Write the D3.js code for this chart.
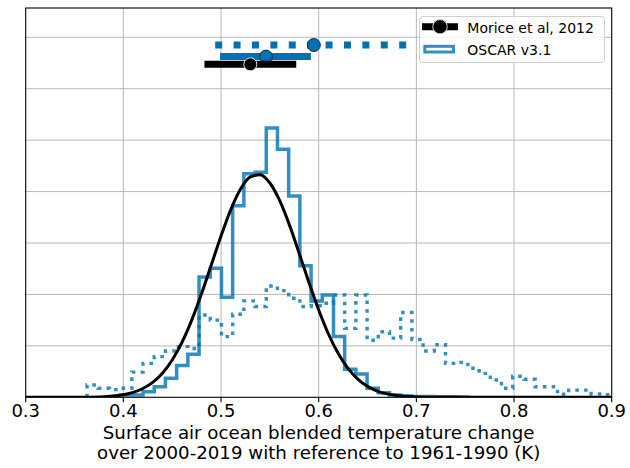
<!DOCTYPE html>
<html><head><meta charset="utf-8">
<script src="https://cdn.jsdelivr.net/npm/d3@7"></script>
<style>body{margin:0;background:#fff;} text{font-family:"DejaVu Sans",sans-serif;fill:#000;}</style>
</head><body><svg id="c" width="630" height="468"></svg>
<script>
// ---- data ----
const xTicks = [0.3, 0.4, 0.5, 0.6, 0.7, 0.8, 0.9];
const xTickLabels = ["0.3", "0.4", "0.5", "0.6", "0.7", "0.8", "0.9"];
const yGrid = [2, 4, 6, 8, 10, 12, 14];
const binWidth = 0.01147;
// OSCAR unconstrained (dotted histogram, density)
const oscarAllStart = 0.3628;
const oscarAll = [0.48, 0.35, 0.30, 0.35, 0.98, 1.32, 1.58, 1.80, 1.97, 1.90,
  3.20, 3.00, 2.36, 3.23, 3.75, 3.53, 4.33, 4.15, 3.85, 3.53,
  3.56, 3.66, 3.98, 2.68, 3.98, 2.22, 2.55, 2.30, 3.30, 2.25,
  1.80, 2.05, 1.32, 1.36, 1.13, 0.93, 0.67, 0.35, 0.82, 0.70,
  0.41, 0.41, 0.12, 0.28, 0.28, 0.13, 0.10, 0.08];
// OSCAR v3.1 constrained (solid histogram, density)
const oscarConStart = 0.3972;
const oscarCon = [0.09, 0.09, 0.22, 0.41, 0.74, 1.24, 1.67,
  4.68, 5.02, 3.89, 7.45, 8.69, 8.75, 10.47, 9.65, 7.83, 5.12,
  3.75, 3.98, 2.36, 1.09, 0.91, 0.35, 0.18, 0.09,
  0.05, 0.03, 0.03, 0.02, 0.02, 0.01];
// Morice et al. 2012 curve (density)
const moriceX = [0.30, 0.34, 0.36, 0.38, 0.40, 0.41, 0.42, 0.43, 0.44, 0.45, 0.46, 0.47, 0.48, 0.49,
  0.50, 0.51, 0.52, 0.53, 0.54, 0.55, 0.56, 0.57, 0.58, 0.59, 0.60, 0.61, 0.62, 0.63, 0.64,
  0.65, 0.66, 0.67, 0.68, 0.70, 0.72, 0.76, 0.80, 0.90];
const moriceY = [0.0, 0.001, 0.005, 0.026, 0.103, 0.192, 0.342, 0.580, 0.939, 1.451, 2.137, 3.002, 4.025, 5.146,
  6.276, 7.300, 8.101, 8.573, 8.655, 8.334, 7.654, 6.705, 5.603, 4.466, 3.395, 2.462, 1.703, 1.123, 0.707,
  0.424, 0.243, 0.133, 0.069, 0.016, 0.003, 0.0, 0.0, 0.0];
// error bars (top): unconstrained OSCAR, constrained OSCAR, Morice
const errCenter = [0.595, 0.546, 0.530];
const errLow = [0.494, 0.499, 0.483];
const errHigh = [0.690, 0.592, 0.577];
const errLevel = [13.7, 13.25, 12.95];
const legendLabels = ["Morice et al, 2012", "OSCAR v3.1"];
const xLabelLines = ["Surface air ocean blended temperature change", "over 2000-2019 with reference to 1961-1990 (K)"];

// ---- drawing ----
const BLUE = "#0072B2";
const HIST = "rgba(0,114,178,0.8)";
const svg = d3.select("#c");
const L = 25.7, R = 611.7, T = 8, B = 397.3;
const x = d3.scaleLinear().domain([0.3, 0.9]).range([L, R]);
const y = d3.scaleLinear().domain([0, 15.14]).range([B, T]);

svg.append("rect").attr("width", 630).attr("height", 468).attr("fill", "#fff");
svg.append("defs").append("clipPath").attr("id", "clip")
  .append("rect").attr("x", L).attr("y", T).attr("width", R - L).attr("height", B - T);

// grid
const grid = svg.append("g").attr("stroke", "#b8b8b8").attr("stroke-width", 1);
grid.selectAll(".vg").data(xTicks.slice(1, -1)).join("line")
  .attr("x1", d => x(d)).attr("x2", d => x(d)).attr("y1", T).attr("y2", B);
grid.selectAll(".hg").data(yGrid).join("line")
  .attr("x1", L).attr("x2", R).attr("y1", d => y(d)).attr("y2", d => y(d));

const plot = svg.append("g").attr("clip-path", "url(#clip)");

function stepPts(start, vals) {
  const p = [[start, 0]];
  vals.forEach((v, i) => {
    const a = start + i * binWidth;
    p.push([a, v]); p.push([a + binWidth, v]);
  });
  p.push([start + vals.length * binWidth, 0]);
  return p;
}
const line = d3.line().x(d => x(d[0])).y(d => y(d[1]));

plot.append("path").attr("d", line(stepPts(oscarAllStart, oscarAll)))
  .attr("fill", "none").attr("stroke", HIST).attr("stroke-width", 3.4)
  .attr("stroke-dasharray", "3.6,5.2");
plot.append("path").attr("d", line(stepPts(oscarConStart, oscarCon)))
  .attr("fill", "none").attr("stroke", HIST).attr("stroke-width", 3.5);

const curve = d3.line().x(d => x(d[0])).y(d => y(d[1])).curve(d3.curveMonotoneX);
plot.append("path").attr("d", curve(moriceX.map((v, i) => [v, moriceY[i]])))
  .attr("fill", "none").attr("stroke", "#000").attr("stroke-width", 3);

// error bars
const ebColor = [BLUE, BLUE, "#000"];
const ebDash = ["7,11.4", null, null];
const ebEdge = ["#1b2a3a", "#1b2a3a", "#e0e0e0"];
errCenter.forEach((c, i) => {
  plot.append("line").attr("x1", x(errLow[i])).attr("x2", x(errHigh[i]))
    .attr("y1", y(errLevel[i])).attr("y2", y(errLevel[i]))
    .attr("stroke", ebColor[i]).attr("stroke-width", 7)
    .attr("stroke-dasharray", ebDash[i]);
  plot.append("circle").attr("cx", x(c)).attr("cy", y(errLevel[i])).attr("r", 6.5)
    .attr("fill", ebColor[i]).attr("stroke", ebEdge[i]).attr("stroke-width", 1);
});

// spines
svg.append("rect").attr("x", L).attr("y", T).attr("width", R - L).attr("height", B - T)
  .attr("fill", "none").attr("stroke", "#000").attr("stroke-width", 1.1);

// x ticks
const xa = svg.append("g");
xa.selectAll("line").data(xTicks).join("line")
  .attr("x1", d => x(d)).attr("x2", d => x(d)).attr("y1", B).attr("y2", B + 4.9)
  .attr("stroke", "#000").attr("stroke-width", 1.1);
xa.selectAll("text").data(xTicks).join("text")
  .attr("x", d => x(d)).attr("y", 416.7).attr("text-anchor", "middle")
  .attr("font-size", 18).text((d, i) => xTickLabels[i]);

svg.selectAll(".xl").data(xLabelLines).join("text")
  .attr("x", (L + R) / 2).attr("y", (d, i) => 439.3 + i * 19.2)
  .attr("text-anchor", "middle").attr("font-size", 18.2).text(d => d);

// legend
const lg = svg.append("g");
lg.append("rect").attr("x", 419.5).attr("y", 16.5).attr("width", 185).attr("height", 46)
  .attr("rx", 3).attr("fill", "#fff").attr("fill-opacity", 0.8)
  .attr("stroke", "#d0d0d0").attr("stroke-width", 1);
lg.append("line").attr("x1", 422).attr("x2", 458).attr("y1", 26.7).attr("y2", 26.7)
  .attr("stroke", "#000").attr("stroke-width", 7);
lg.append("circle").attr("cx", 440).attr("cy", 26.7).attr("r", 7.2)
  .attr("fill", "#000").attr("stroke", "#e0e0e0").attr("stroke-width", 1);
lg.append("rect").attr("x", 424.8).attr("y", 46.3).attr("width", 28.7).attr("height", 5.7)
  .attr("fill", "#fff").attr("stroke", HIST).attr("stroke-width", 3);
lg.selectAll("text").data(legendLabels).join("text")
  .attr("x", 467.3).attr("y", (d, i) => 32.7 + i * 22.3)
  .attr("font-size", 14).text(d => d);
</script></body></html>
